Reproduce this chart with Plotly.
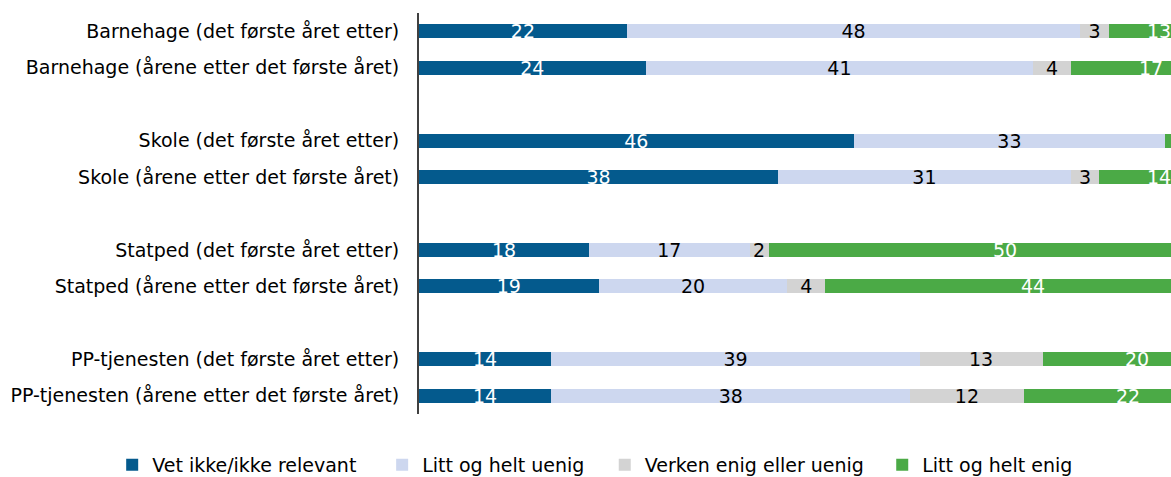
import plotly.graph_objects as go

categories = [
    "Barnehage (det første året etter)",
    "Barnehage (årene etter det første året)",
    " ",
    "Skole (det første året etter)",
    "Skole (årene etter det første året)",
    "  ",
    "Statped (det første året etter)",
    "Statped (årene etter det første året)",
    "   ",
    "PP-tjenesten (det første året etter)",
    "PP-tjenesten (årene etter det første året)",
]

series_names = ["Vet ikke/ikke relevant", "Litt og helt uenig", "Verken enig eller uenig", "Litt og helt enig"]
vet_ikke = [22, 24, None, 46, 38, None, 18, 19, None, 14, 14]
uenig = [48, 41, None, 33, 31, None, 17, 20, None, 39, 38]
verken = [3, 4, None, None, 3, None, 2, 4, None, 13, 12]
enig = [13, 17, None, 7, 14, None, 50, 44, None, 20, 22]

colors = ["#045A8D", "#CDD7EF", "#D3D3D3", "#4BAA46"]
text_colors = ["white", "black", "black", "white"]
legend_ids = ["legend", "legend2", "legend3", "legend4"]
legend_x = [-0.408, -0.049, 0.247, 0.616]

XMAX = 79.6
FONT = "DejaVu Sans"

all_series = [vet_ikke, uenig, verken, enig]

fig = go.Figure()
for i, (name, vals, col, tcol, lid) in enumerate(zip(series_names, all_series, colors, text_colors, legend_ids)):
    last = i == len(all_series) - 1
    fig.add_trace(go.Bar(
        y=categories, x=vals, name=name, orientation="h",
        marker=dict(color=col, line=dict(width=0)),
        text=None if last else [("" if v is None else str(v)) for v in vals],
        textposition="none" if last else "inside",
        insidetextanchor="middle", textangle=0,
        textfont=dict(color=tcol, size=19, family=FONT),
        constraintext="none",
        legend=lid,
    ))

# labels for the last (rightmost) segment, kept inside the visible plot area
annotations = []
for k, cat in enumerate(categories):
    v = enig[k]
    if v is None:
        continue
    start = sum((s[k] or 0) for s in all_series[:-1])
    mid = start + v / 2
    if mid > XMAX:
        continue
    annotations.append(dict(
        x=min(mid, XMAX - 1.3), y=cat, xref="x", yref="y", text=str(v),
        showarrow=False, font=dict(color=text_colors[-1], size=19, family=FONT),
        xanchor="center", yanchor="middle",
    ))

legend_common = dict(orientation="h", xanchor="left", yref="container", y=0.0252, yanchor="middle",
                     font=dict(size=19, family=FONT, color="black"),
                     bgcolor="rgba(0,0,0,0)")

fig.update_layout(
    barmode="stack",
    bargap=0.62,
    width=1171, height=477,
    margin=dict(l=419, r=0, t=13, b=63),
    plot_bgcolor="white", paper_bgcolor="white",
    font=dict(family=FONT, size=19, color="black"),
    showlegend=True,
    legend=dict(x=legend_x[0], **legend_common),
    legend2=dict(x=legend_x[1], **legend_common),
    legend3=dict(x=legend_x[2], **legend_common),
    legend4=dict(x=legend_x[3], **legend_common),
    annotations=annotations,
    xaxis=dict(range=[0, XMAX], showticklabels=False, showgrid=False, zeroline=False,
               showline=False, fixedrange=True),
    yaxis=dict(autorange="reversed", showgrid=False, zeroline=False, showline=True,
               linecolor="#404040", linewidth=2, ticks="", ticklabelstandoff=14,
               tickfont=dict(size=19, family=FONT)),
)

fig.write_html("out.html", config={"displayModeBar": False},
               post_script="document.body.style.margin='0';")
